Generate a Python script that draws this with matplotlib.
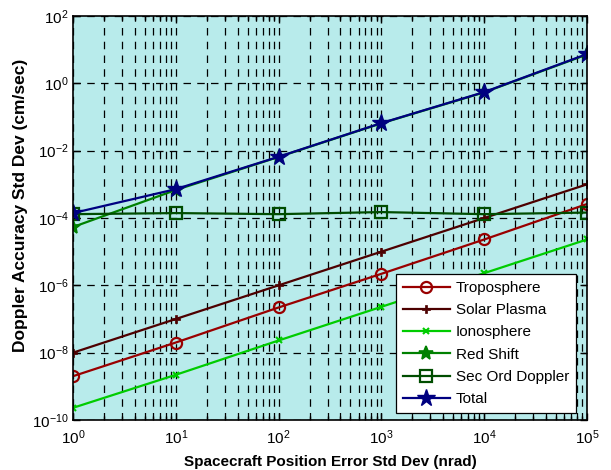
import matplotlib
matplotlib.use("Agg")
import matplotlib.pyplot as plt
from matplotlib.ticker import LogLocator, NullFormatter

x = [1, 10, 100, 1000, 10000, 100000]
troposphere = [2.0e-9, 2.0e-8, 2.2e-7, 2.2e-6, 2.3e-5, 2.6e-4]
solar_plasma = [1.0e-8, 1.0e-7, 1.0e-6, 1.0e-5, 1.0e-4, 1.0e-3]
ionosphere = [2.3e-10, 2.2e-9, 2.3e-8, 2.3e-7, 2.3e-6, 2.3e-5]
red_shift = [5.4e-5, 6.8e-4, 6.5e-3, 6.5e-2, 0.54, 7.2]
sec_ord_doppler = [1.3e-4, 1.4e-4, 1.3e-4, 1.5e-4, 1.3e-4, 1.45e-4]
total = [1.4e-4, 7.2e-4, 6.6e-3, 6.6e-2, 0.55, 7.4]

plt.rcParams['font.family'] = ['Liberation Sans', 'DejaVu Sans']

fig = plt.figure(figsize=(6.11, 4.70), dpi=100)
ax = fig.add_axes([73/611, 1 - 420/470, (587-73)/611, (420-16)/470])
ax.set_facecolor('#b8ebeb')

lw = 1.6
ax.plot(x, troposphere, color='#990000', lw=lw, marker='o', ms=8, mfc='none', mew=1.6, label='Troposphere')
ax.plot(x, solar_plasma, color='#4d0000', lw=lw, marker='P', ms=6, mew=0.5, label='Solar Plasma')
ax.plot(x, ionosphere, color='#00cc00', lw=lw, marker='x', ms=4, mew=1.5, label='Ionosphere')
ax.plot(x, red_shift, color='#008000', lw=lw, marker='*', ms=10, mew=1.2, label='Red Shift')
ax.plot(x, sec_ord_doppler, color='#004d00', lw=lw, marker='s', ms=8, mfc='none', mew=1.6, label='Sec Ord Doppler')
ax.plot(x, total, color='#000080', lw=lw, marker='*', ms=13, label='Total')

ax.set_xscale('log')
ax.set_yscale('log')
ax.set_xlim(1, 1e5)
ax.set_ylim(1e-10, 1e2)

ax.xaxis.set_major_locator(LogLocator(base=10, numticks=10))
ax.xaxis.set_minor_locator(LogLocator(base=10, subs=range(2, 10), numticks=20))
ax.xaxis.set_minor_formatter(NullFormatter())
ax.set_yticks([1e-10, 1e-8, 1e-6, 1e-4, 1e-2, 1, 1e2])
ax.set_yticks([], minor=True)

ax.grid(True, which='major', axis='both', color='black', linestyle=(0, (6, 5)), lw=0.9)
ax.grid(True, which='minor', axis='x', color='black', linestyle=(0, (6, 5)), lw=0.9)

ax.tick_params(which='both', direction='in', top=True, right=True, labelsize=11, width=1)
ax.tick_params(axis='x', which='major', pad=6)
ax.tick_params(axis='y', which='major', pad=3)
ax.tick_params(which='major', length=5)
ax.tick_params(which='minor', length=3)
for s in ax.spines.values():
    s.set_linewidth(1.2)

ax.set_xlabel('Spacecraft Position Error Std Dev (nrad)', fontsize=11, fontweight='bold', labelpad=6)
ax.set_ylabel('Doppler Accuracy Std Dev (cm/sec)', fontsize=12.5, fontweight='bold')
ax.yaxis.set_label_coords((28 - 73) / 514, (420 - 205) / 404)

leg = ax.legend(loc='lower right', bbox_to_anchor=(0.9786, 0.0173), bbox_transform=ax.transAxes,
                fontsize=11, fancybox=False, framealpha=1, edgecolor='black',
                handlelength=3.07, handletextpad=0.4, borderaxespad=0,
                labelspacing=0.54, borderpad=0.45, numpoints=1)
leg.get_frame().set_linewidth(0.9)

fig.savefig('out.png', dpi=100)
